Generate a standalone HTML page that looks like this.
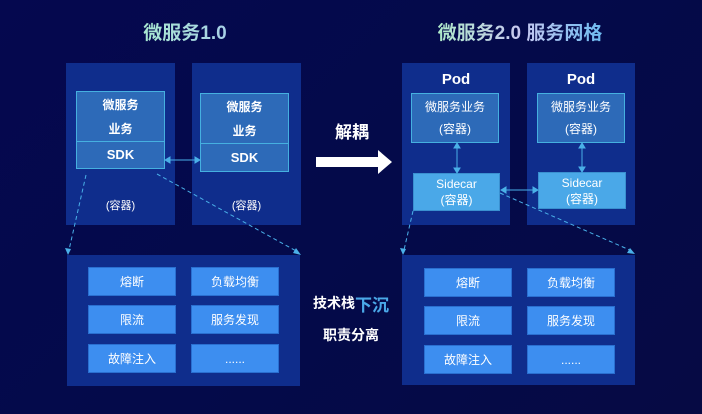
<!DOCTYPE html>
<html><head><meta charset="utf-8"><style>
*{margin:0;padding:0;box-sizing:border-box}
body{width:702px;height:414px;overflow:hidden;position:relative;background:linear-gradient(135deg,#05084f 0%,#040a4a 50%,#060a44 100%);font-family:"Liberation Sans","Noto Sans CJK SC",sans-serif;color:#fff}
.a{position:absolute;display:flex;align-items:center;justify-content:center;text-align:center}
.p{background:#0f2d8c}
.biz{background:#2d6ab8;border:1.5px solid #45b0e0;font-weight:bold;font-size:12px;line-height:24px;flex-direction:column}
.bn{background:#3d8ef0;border:1px solid #2a6fd0;font-size:12px}
.t{font-size:19px;font-weight:bold;color:#b9d8f0}
</style></head><body>
<div class="a t" style="left:110px;top:18px;width:150px;height:26px;background:linear-gradient(90deg,#a8f0c8,#a8c8f0);-webkit-background-clip:text;color:transparent">微服务1.0</div>
<div class="a t" style="left:420px;top:18px;width:200px;height:26px;background:linear-gradient(90deg,#a8f0c0,#c8c8f0,#5ab8f0);-webkit-background-clip:text;color:transparent">微服务2.0 服务网格</div>

<div class="a p" style="left:66px;top:63px;width:109px;height:162px"></div>
<div class="a p" style="left:192px;top:63px;width:109px;height:162px"></div>
<div class="a biz" style="left:76px;top:91px;width:89px;height:51px"><div>微服务</div><div>业务</div></div>
<div class="a biz" style="left:76px;top:141px;width:89px;height:28px;font-size:13px">SDK</div>
<div class="a biz" style="left:200px;top:93px;width:89px;height:51px"><div>微服务</div><div>业务</div></div>
<div class="a biz" style="left:200px;top:143px;width:89px;height:29px;font-size:13px">SDK</div>
<div class="a" style="left:66px;top:196px;width:109px;height:18px;font-size:11px">(容器)</div>
<div class="a" style="left:192px;top:196px;width:109px;height:18px;font-size:11px">(容器)</div>

<div class="a" style="left:322px;top:118px;width:60px;height:24px;font-size:17px;font-weight:bold">解耦</div>

<div class="a p" style="left:402px;top:63px;width:108px;height:162px"></div>
<div class="a p" style="left:527px;top:63px;width:108px;height:162px"></div>
<div class="a" style="left:402px;top:68px;width:108px;height:22px;font-size:15px;font-weight:bold">Pod</div>
<div class="a" style="left:527px;top:68px;width:108px;height:22px;font-size:15px;font-weight:bold">Pod</div>
<div class="a biz" style="left:411px;top:93px;width:88px;height:50px;font-weight:normal;line-height:22px"><div>微服务业务</div><div>(容器)</div></div>
<div class="a biz" style="left:537px;top:93px;width:88px;height:50px;font-weight:normal;line-height:22px"><div>微服务业务</div><div>(容器)</div></div>
<div class="a" style="left:413px;top:173px;width:87px;height:38px;background:#4aa8e8;border:1px solid #3a90d0;flex-direction:column;font-size:12px;line-height:16px"><div>Sidecar</div><div>(容器)</div></div>
<div class="a" style="left:538px;top:172px;width:88px;height:37px;background:#4aa8e8;border:1px solid #3a90d0;flex-direction:column;font-size:12px;line-height:16px"><div>Sidecar</div><div>(容器)</div></div>

<div class="a p" style="left:67px;top:255px;width:233px;height:131px"></div>
<div class="a bn" style="left:88px;top:267px;width:88px;height:29px">熔断</div>
<div class="a bn" style="left:191px;top:267px;width:88px;height:29px">负载均衡</div>
<div class="a bn" style="left:88px;top:305px;width:88px;height:29px">限流</div>
<div class="a bn" style="left:191px;top:305px;width:88px;height:29px">服务发现</div>
<div class="a bn" style="left:88px;top:344px;width:88px;height:29px">故障注入</div>
<div class="a bn" style="left:191px;top:344px;width:88px;height:29px">......</div>

<div class="a p" style="left:402px;top:255px;width:233px;height:130px"></div>
<div class="a bn" style="left:424px;top:268px;width:88px;height:29px">熔断</div>
<div class="a bn" style="left:527px;top:268px;width:88px;height:29px">负载均衡</div>
<div class="a bn" style="left:424px;top:306px;width:88px;height:29px">限流</div>
<div class="a bn" style="left:527px;top:306px;width:88px;height:29px">服务发现</div>
<div class="a bn" style="left:424px;top:345px;width:88px;height:29px">故障注入</div>
<div class="a bn" style="left:527px;top:345px;width:88px;height:29px">......</div>

<div class="a" style="left:304px;top:291px;width:94px;height:24px;font-weight:bold;font-size:14px">技术栈<span style="color:#4aa8e8;font-size:17px">下沉</span></div>
<div class="a" style="left:304px;top:324px;width:94px;height:22px;font-weight:bold;font-size:14px">职责分离</div>

<svg style="position:absolute;left:0;top:0" width="702" height="414">
<polygon points="316,157 378,157 378,150 392,162 378,174 378,167 316,167" fill="#fff"/>
<g stroke="#4ab0e8" stroke-width="1" fill="#4ab0e8">
<line x1="168" y1="160" x2="197" y2="160"/><polygon points="165,160 170,157 170,163"/><polygon points="200,160 195,157 195,163"/>
<line x1="457" y1="146" x2="457" y2="170"/><polygon points="457,143 454,148 460,148"/><polygon points="457,173 454,168 460,168"/>
<line x1="582" y1="146" x2="582" y2="169"/><polygon points="582,143 579,148 585,148"/><polygon points="582,172 579,167 585,167"/>
<line x1="504" y1="190" x2="535" y2="190"/><polygon points="501,190 506,187 506,193"/><polygon points="538,190 533,187 533,193"/>
</g>
<g stroke="#4ab0e8" stroke-width="1" stroke-dasharray="4,3" fill="none">
<line x1="86" y1="175" x2="69" y2="250"/><line x1="157" y1="174" x2="298" y2="252"/>
<line x1="413" y1="211" x2="404" y2="250"/><line x1="500" y1="193" x2="632" y2="251"/>
</g>
<g fill="#4ab0e8"><polygon points="68,255 65,248 71,249"/><polygon points="301,255 293,253 296,248"/><polygon points="403,255 400,248 406,249"/><polygon points="635,254 627,253 630,248"/></g>
</svg>
</body></html>
